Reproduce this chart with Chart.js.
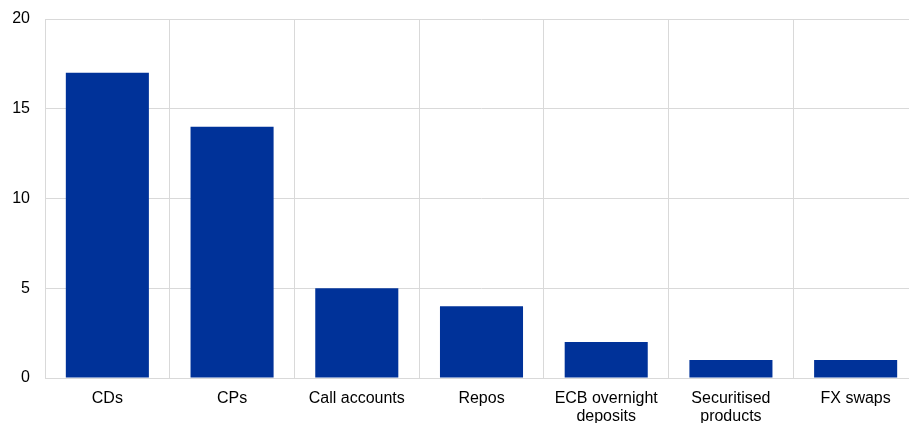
<!DOCTYPE html>
<html><head><meta charset="utf-8">
<script src="https://cdn.jsdelivr.net/npm/chart.js@4"></script>
<style>
html,body{margin:0;padding:0;background:#fff;overflow:hidden;}
#wrap{position:relative;width:918px;height:423px;}
</style></head>
<body><div id="wrap"><canvas id="c"></canvas></div>
<script>
const categories = ["CDs","CPs","Call accounts","Repos",["ECB overnight","deposits"],["Securitised","products"],"FX swaps"];
const values = [17,14,5,4,2,1,1];
const yTicks = [0,5,10,15,20];

new Chart(document.getElementById('c'), {
  type: 'bar',
  data: { labels: categories, datasets: [{ data: values, backgroundColor: '#003299', borderWidth: 0,
    categoryPercentage: 1, barPercentage: 0.666 }] },
  options: {
    responsive: true, maintainAspectRatio: false, animation: false,
    layout: { padding: { top: 19, right: 0, bottom: 0, left: 0 } },
    plugins: { legend: { display: false }, tooltip: { enabled: false } },
    scales: {
      x: {
        grid: { color: '#d9d9d9', lineWidth: 1, drawTicks: false, offset: true },
        border: { color: '#d9d9d9' },
        ticks: { color: '#000', font: { family: 'Liberation Sans, Arial', size: 16, lineHeight: 1.15 }, padding: 11, maxRotation: 0, autoSkip: false },
        afterFit: (s) => { s.height = 45; s.paddingLeft = 0; s.paddingRight = 0; }
      },
      y: {
        min: 0, max: 20,
        afterBuildTicks: (s) => { s.ticks = yTicks.map(v => ({ value: v })); },
        grid: { color: '#d9d9d9', lineWidth: 1, drawTicks: false },
        border: { display: false },
        ticks: { color: '#000', font: { family: 'Liberation Sans, Arial', size: 16 }, padding: 15 },
        afterFit: (s) => { s.width = 45; s.paddingTop = 0; s.paddingBottom = 0; }
      }
    }
  }
});
</script></body></html>
